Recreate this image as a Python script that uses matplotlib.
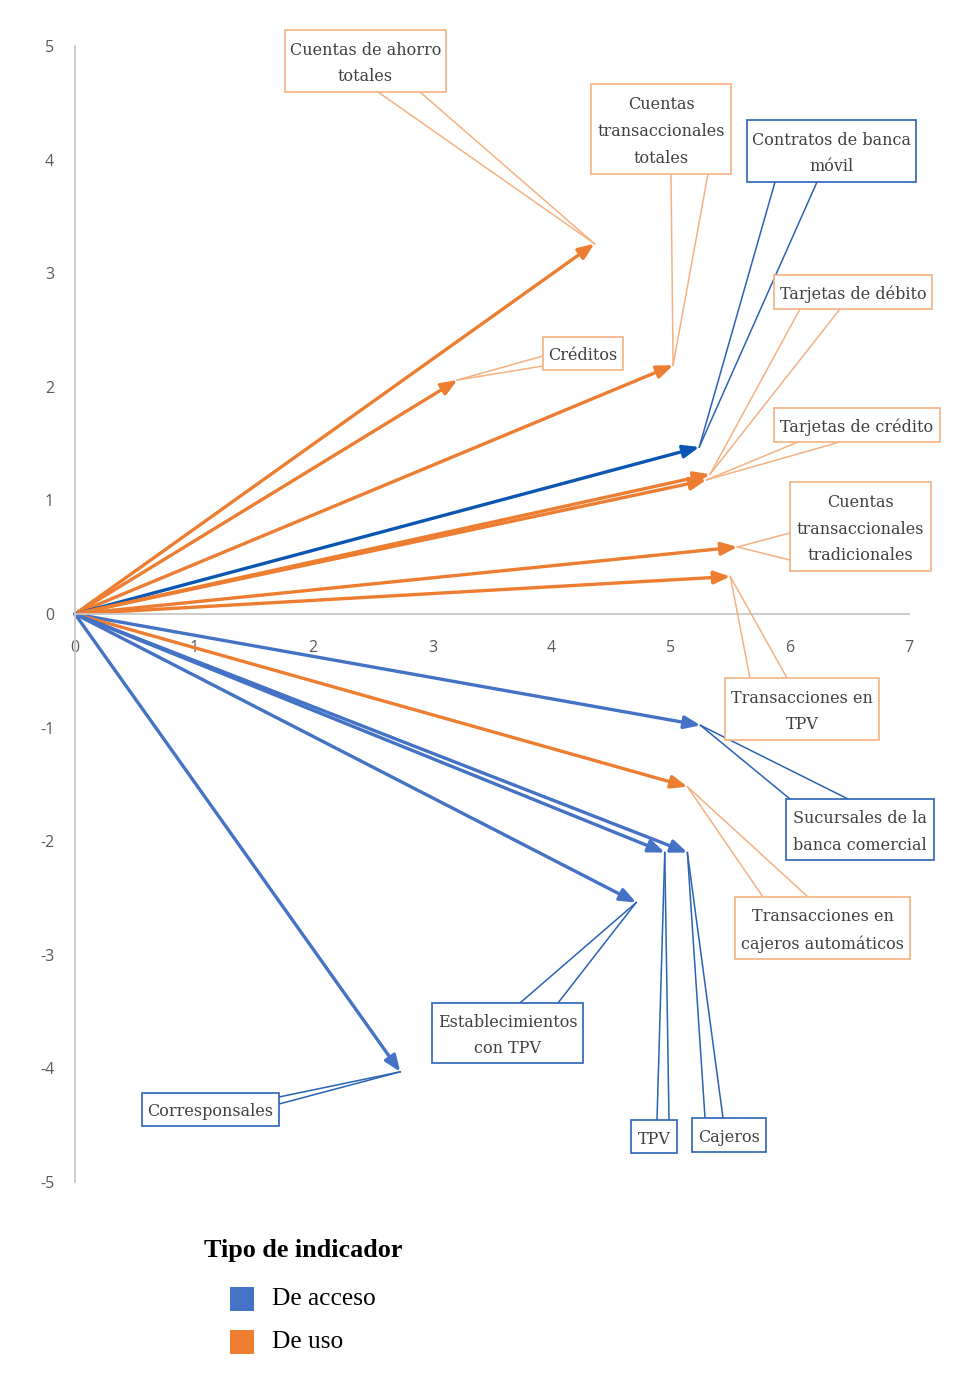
import matplotlib
matplotlib.use("Agg")
import matplotlib.pyplot as plt
from matplotlib.patches import Rectangle
from matplotlib.lines import Line2D

# ---------------- data ----------------
labels = ["Cuentas de ahorro\ntotales", "Créditos", "Cuentas\ntransaccionales\ntotales",
          "Contratos de banca\nmóvil", "Tarjetas de débito", "Tarjetas de crédito",
          "Cuentas\ntransaccionales\ntradicionales", "Transacciones en\nTPV",
          "Sucursales de la\nbanca comercial", "Transacciones en\ncajeros automáticos",
          "Cajeros", "TPV", "Establecimientos\ncon TPV", "Corresponsales"]
x_vals = [4.36, 3.21, 5.02, 5.24, 5.33, 5.30, 5.56, 5.50, 5.25, 5.14, 5.14, 4.95, 4.71, 2.73]
y_vals = [3.26, 2.06, 2.19, 1.47, 1.23, 1.18, 0.59, 0.33, -0.98, -1.52, -2.10, -2.10, -2.54, -4.03]
tipo = ["uso", "uso", "uso", "acceso", "uso", "uso", "uso", "uso",
        "acceso", "uso", "acceso", "acceso", "acceso", "acceso"]
legend_title = "Tipo de indicador"
legend_labels = {"acceso": "De acceso", "uso": "De uso"}
x_ticks = [0, 1, 2, 3, 4, 5, 6, 7]
y_ticks = [-5, -4, -3, -2, -1, 0, 1, 2, 3, 4, 5]

# ---------------- styles / layout ----------------
W, H = 963, 1398
arrow_col = {"acceso": "#4472C4", "uso": "#ED7D31"}
special_arrow_col = {3: "#0B56B0"}
box_col = {"acceso": "#2A62B5", "uso": "#F4B183"}
# callout layout in pixels: box (x0, y0, x1, y1), wedge base points
callouts = [
    ((285, 30, 446, 92), (378, 92), (420, 92)),
    ((543, 337, 623, 370), (543, 356), (543, 366)),
    ((591, 84, 731, 174), (671, 174), (708, 174)),
    ((747, 120, 916, 182), (775, 182), (817, 182)),
    ((774, 275, 932, 309), (800, 309), (840, 309)),
    ((774, 408, 940, 442), (798, 442), (840, 442)),
    ((790, 482, 931, 571), (790, 533), (790, 560)),
    ((725, 678, 879, 740), (750, 678), (787, 678)),
    ((786, 799, 934, 860), (790, 799), (848, 799)),
    ((735, 897, 910, 959), (763, 897), (808, 897)),
    ((692, 1118, 766, 1152), (705, 1118), (723, 1118)),
    ((631, 1120, 677, 1153), (657, 1120), (669, 1120)),
    ((432, 1003, 583, 1063), (520, 1003), (558, 1003)),
    ((142, 1093, 279, 1126), (279, 1097), (279, 1104)),
]

def P(x, y):
    return (x / W, 1 - y / H)

fig = plt.figure(figsize=(W / 100, H / 100), dpi=100)
ax = fig.add_axes([75 / W, 1 - 1182 / H, (909 - 75) / W, (1182 - 46) / H])
ax.set_xlim(0, 7)
ax.set_ylim(-5, 5)
for s in ["top", "right"]:
    ax.spines[s].set_visible(False)
ax.spines["left"].set_position(("data", 0))
ax.spines["bottom"].set_position(("data", 0))
for s in ["left", "bottom"]:
    ax.spines[s].set_color("#C8C8C8")
    ax.spines[s].set_linewidth(1.3)
ax.set_xticks(x_ticks)
ax.set_yticks(y_ticks)
ax.set_xticklabels([str(t) for t in x_ticks])
ax.set_yticklabels([str(t) for t in y_ticks])
ax.tick_params(axis="both", length=0, labelsize=11.5, labelcolor="#595959")
ax.tick_params(axis="x", pad=19)
ax.tick_params(axis="y", pad=15)
for lab in ax.get_xticklabels() + ax.get_yticklabels():
    lab.set_fontfamily("Open Sans")
ax.patch.set_alpha(0)

for i, (x, y, t) in enumerate(zip(x_vals, y_vals, tipo)):
    c = special_arrow_col.get(i, arrow_col[t])
    ax.annotate("", xy=(x, y), xytext=(0, 0),
                arrowprops=dict(arrowstyle="-|>,head_length=0.8,head_width=0.32",
                                lw=2.4, color=c, shrinkA=0, shrinkB=0,
                                mutation_scale=12),
                zorder=2)

fig.canvas.draw()
inv = fig.transFigure.inverted()
for i, (lab, x, y, t) in enumerate(zip(labels, x_vals, y_vals, tipo)):
    (x0, y0, x1, y1), b1, b2 = callouts[i]
    tip = inv.transform(ax.transData.transform((x, y)))
    ec = box_col[t]
    for b in (b1, b2):
        bp = P(*b)
        fig.add_artist(Line2D([bp[0], tip[0]], [bp[1], tip[1]], color=ec,
                              lw=1.1, transform=fig.transFigure, zorder=5))
    bl = P(x0, y1)
    fig.add_artist(Rectangle(bl, (x1 - x0) / W, (y1 - y0) / H, transform=fig.transFigure,
                             facecolor="white", edgecolor=ec, lw=1.2, zorder=6))
    cx, cy = P((x0 + x1) / 2, (y0 + y1) / 2 + 2.5)
    fig.text(cx, cy, lab, ha="center", va="center", fontsize=11.5,
             family="DejaVu Serif", color="#404040", linespacing=1.75, zorder=7)

# legend
fig.text(*P(204, 1251), legend_title, ha="left", va="center", fontsize=18.8,
         family="Liberation Serif", fontweight="bold", color="black")
for k, (key, ypix) in enumerate([("acceso", 1299), ("uso", 1342)]):
    fig.add_artist(Rectangle(P(230, ypix + 12), 24 / W, 24 / H, transform=fig.transFigure,
                             facecolor=arrow_col[key], edgecolor="none"))
    fig.text(*P(272, ypix), legend_labels[key], ha="left", va="center", fontsize=18.3,
             family="Liberation Serif", color="black")

fig.savefig("out.png", dpi=100, facecolor="white")
